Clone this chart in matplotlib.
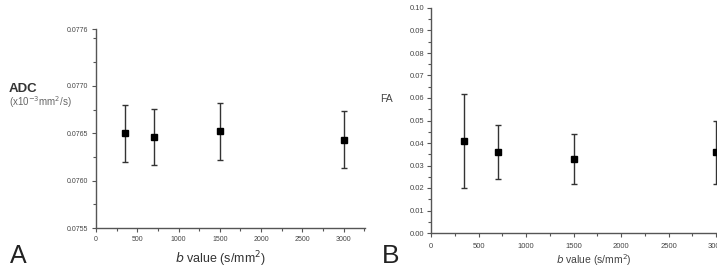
import matplotlib
matplotlib.use("Agg")
import matplotlib.pyplot as plt
from matplotlib.ticker import MultipleLocator, FuncFormatter

plt.rcParams['font.family'] = ['Liberation Sans', 'DejaVu Sans']

b_values = [350, 700, 1500, 3000]
adc_mean = [0.07650, 0.07646, 0.07652, 0.07643]
adc_low = [0.07620, 0.07616, 0.07622, 0.07613]
adc_high = [0.07680, 0.07676, 0.07682, 0.07673]
fa_mean = [0.041, 0.036, 0.033, 0.036]
fa_low = [0.020, 0.024, 0.022, 0.022]
fa_high = [0.062, 0.048, 0.044, 0.050]

W, H = 717, 268
fig = plt.figure(figsize=(W / 100, H / 100), dpi=100)
spine_c = '#555555'
tick_c = '#444444'

def ax_at(l, r, t, b):
    return fig.add_axes([l / W, 1 - b / H, (r - l) / W, (b - t) / H])

def style(ax, fs, pad):
    for s in ['top', 'right']:
        ax.spines[s].set_visible(False)
    for s in ['left', 'bottom']:
        ax.spines[s].set_color(spine_c)
        ax.spines[s].set_linewidth(1.0)
    ax.tick_params(which='both', direction='out', color=spine_c, width=0.8,
                   labelsize=fs, labelcolor=tick_c, pad=pad)
    ax.tick_params(which='major', length=3)
    ax.tick_params(which='minor', length=2)
    ax.set_facecolor('none')

# Panel A
axA = ax_at(96, 365, 29, 228)
yerrA = [[m - lo for m, lo in zip(adc_mean, adc_low)], [hi - m for m, hi in zip(adc_mean, adc_high)]]
axA.errorbar(b_values, adc_mean, yerr=yerrA, fmt='s', color='black', ms=4,
             ecolor='#333333', elinewidth=1.0, capsize=2.5, capthick=1.0, clip_on=False)
axA.set_xlim(0, 3260)
axA.set_ylim(0.0755, 0.0776)
axA.set_yticks([0.0755, 0.0760, 0.0765, 0.0770, 0.0776])
axA.yaxis.set_minor_locator(MultipleLocator(0.00025))
axA.set_xticks([0, 500, 1000, 1500, 2000, 2500, 3000])
axA.xaxis.set_minor_locator(MultipleLocator(250))
axA.yaxis.set_major_formatter(FuncFormatter(lambda v, p: f"{v:.4f}"))
style(axA, 5, 3)

fig.text(9 / W, 1 - 89 / H, 'ADC', fontsize=9.5, fontweight='bold', color='#333333', va='center', ha='left')
fig.text(9 / W, 1 - 102 / H, '(x10$^{-3}$mm$^2$/s)', fontsize=7, color='#666666', va='center', ha='left')
fig.text(10 / W, 1 - 256 / H, 'A', fontsize=18, color='#222222', va='center', ha='left')
fig.text(220 / W, 1 - 259 / H, '$\\it{b}$ value (s/mm$^2$)', fontsize=9, color='#333333', va='center', ha='center')

# Panel B
axB = ax_at(431, 717, 8, 233)
yerrB = [[m - lo for m, lo in zip(fa_mean, fa_low)], [hi - m for m, hi in zip(fa_mean, fa_high)]]
axB.errorbar(b_values, fa_mean, yerr=yerrB, fmt='s', color='black', ms=4,
             ecolor='#333333', elinewidth=1.0, capsize=2.5, capthick=1.0, clip_on=False)
axB.set_xlim(0, 3010)
axB.set_ylim(0, 0.10)
axB.yaxis.set_major_locator(MultipleLocator(0.01))
axB.yaxis.set_minor_locator(MultipleLocator(0.005))
axB.xaxis.set_major_locator(MultipleLocator(500))
axB.xaxis.set_minor_locator(MultipleLocator(250))
axB.yaxis.set_major_formatter(FuncFormatter(lambda v, p: f"{v:.2f}"))
style(axB, 5.5, 2)
axB.tick_params(axis='x', pad=4)

fig.text(380 / W, 1 - 99 / H, 'FA', fontsize=7.5, color='#444444', va='center', ha='left')
fig.text(382 / W, 1 - 256 / H, 'B', fontsize=19, color='#222222', va='center', ha='left')
fig.text(594 / W, 1 - 260 / H, '$\\it{b}$ value (s/mm$^2$)', fontsize=7.5, color='#444444', va='center', ha='center')

fig.savefig('out.png', dpi=100)
